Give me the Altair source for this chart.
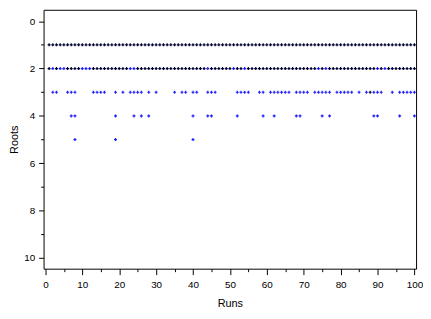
import altair as alt
import pandas as pd

runs = list(range(1, 101))
root3_runs = [2, 3, 6, 7, 8, 13, 14, 15, 16, 19, 21, 23, 24, 25, 26, 28, 30,
              35, 37, 38, 40, 41, 44, 45, 46, 52, 53, 54, 55, 58, 59, 61, 62,
              63, 64, 65, 66, 68, 69, 70, 71, 73, 74, 75, 76, 77, 79, 80, 81,
              82, 83, 85, 87, 88, 89, 90, 91, 94, 96, 97, 98, 99, 100]
root4_runs = [7, 8, 19, 24, 26, 28, 40, 44, 45, 52, 59, 62, 68, 69, 75, 77,
              89, 90, 96, 100]
root5_runs = [8, 19, 40]
blue_root2_runs = [2, 4, 5, 10, 11, 12, 23, 24, 44, 51, 54, 74, 76, 90, 92]
black_root3_runs = [88]

x_ticks = list(range(0, 101, 5))
y_ticks = list(range(0, 11, 1))

rows = []
for r in runs:
    rows.append({"run": r, "roots": 1, "grp": "black"})
    rows.append({"run": r, "roots": 2, "grp": "blue" if r in blue_root2_runs else "black"})
for r in root3_runs:
    rows.append({"run": r, "roots": 3, "grp": "black" if r in black_root3_runs else "blue"})
for r in root4_runs:
    rows.append({"run": r, "roots": 4, "grp": "blue"})
for r in root5_runs:
    rows.append({"run": r, "roots": 5, "grp": "blue"})
df = pd.DataFrame(rows)

font = "Liberation Sans"

chart = alt.Chart(df).mark_point(
    shape="cross", filled=True, size=9, opacity=1
).encode(
    x=alt.X("run:Q",
            scale=alt.Scale(domain=[-0.5, 100.45], nice=False, zero=False),
            axis=alt.Axis(values=x_ticks, title="Runs", grid=False, domain=False,
                          labelExpr="datum.value % 10 === 0 ? datum.label : ''",
                          tickSize={"expr": "datum.value % 10 === 0 ? 6 : 3"},
                          tickColor="black", labelColor="black", titleColor="black",
                          labelFont=font, titleFont=font, labelFontSize=10,
                          titleFontSize=11, titleFontWeight="normal",
                          labelPadding=5, titlePadding=8)),
    y=alt.Y("roots:Q",
            scale=alt.Scale(domain=[-0.48, 10.45], reverse=True, nice=False, zero=False),
            axis=alt.Axis(values=y_ticks, title="Roots", grid=False, domain=False,
                          labelExpr="datum.value % 2 === 0 ? datum.label : ''",
                          tickSize={"expr": "datum.value % 2 === 0 ? 5 : 3"},
                          tickColor="black", labelColor="black", titleColor="black",
                          labelFont=font, titleFont=font, labelFontSize=10,
                          titleFontSize=11, titleFontWeight="normal",
                          labelPadding=4, titlePadding=4)),
    color=alt.Color("grp:N",
                    scale=alt.Scale(domain=["black", "blue"], range=["#000033", "#1f1fff"]),
                    legend=None),
).properties(
    width=377, height=262,
    padding={"left": 0, "top": 0, "right": 0, "bottom": 0},
).configure_view(stroke="black", strokeWidth=1)

chart.save("out.html", embed_options={"renderer": "svg", "actions": False})
